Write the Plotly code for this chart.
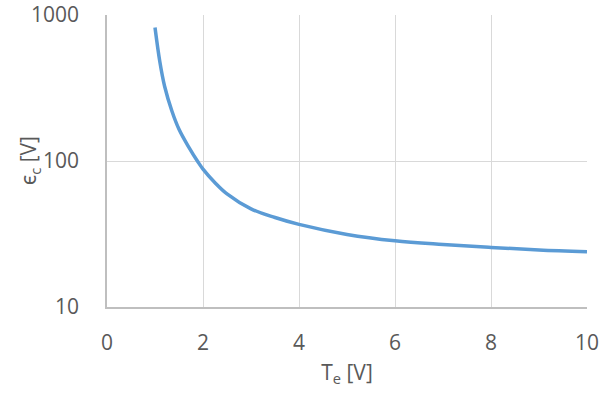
import plotly.graph_objects as go

# Electron temperature [V] and collisional energy loss per ion created [V]
te = [1.0, 1.1, 1.2, 1.35, 1.5, 1.7, 1.9, 2.0, 2.25, 2.5, 3.0, 3.5, 4.0, 5.0, 6.0, 7.0, 8.0, 9.0, 10.0]
eps_c = [820, 480, 325, 221, 165, 125, 98, 88, 71, 59.5, 47, 41, 36.8, 31.4, 28.4, 26.8, 25.6, 24.6, 23.9]

x_ticks = [0, 2, 4, 6, 8, 10]
y_ticks = [10, 100, 1000]
y_tick_text = ["10", "100", "1000"]

font_family = "Open Sans, Noto Sans, sans-serif"
text_color = "#595959"

fig = go.Figure()
fig.add_trace(go.Scatter(
    x=te, y=eps_c, mode="lines",
    line=dict(color="#5b9bd5", width=3.5, shape="spline", smoothing=1.0),
    showlegend=False,
))

fig.update_layout(
    width=612, height=394,
    margin=dict(l=107, r=25, t=15, b=87, autoexpand=False),
    paper_bgcolor="white", plot_bgcolor="white",
    font=dict(family=font_family, size=21, color=text_color),
    xaxis=dict(
        range=[0, 10], tickvals=x_ticks, ticks="",
        showgrid=True, gridcolor="#d9d9d9", gridwidth=1.3,
        zeroline=False, showline=True, linecolor="#bfbfbf", linewidth=1.5,
        automargin=False,
        ticklabelstandoff=16,
        title=dict(text="T<sub>e</sub> [V]", standoff=10, font=dict(size=21)),
    ),
    yaxis=dict(
        type="log", range=[1, 3], tickvals=y_ticks, ticktext=y_tick_text, ticks="",
        showgrid=True, gridcolor="#d9d9d9", gridwidth=1.3,
        zeroline=False, showline=True, linecolor="#bfbfbf", linewidth=1.5,
        automargin=False,
        ticklabelstandoff=22,
    ),
    # y-axis title placed as a rotated annotation so it can sit close to the tick labels
    annotations=[dict(
        text="ϵ<sub>c</sub> [V]", textangle=-90,
        xref="paper", yref="paper", x=-0.162, y=0.5,
        xanchor="center", yanchor="middle", showarrow=False,
        font=dict(family=font_family, size=21, color=text_color),
    )],
)

fig.write_html("out.html")
